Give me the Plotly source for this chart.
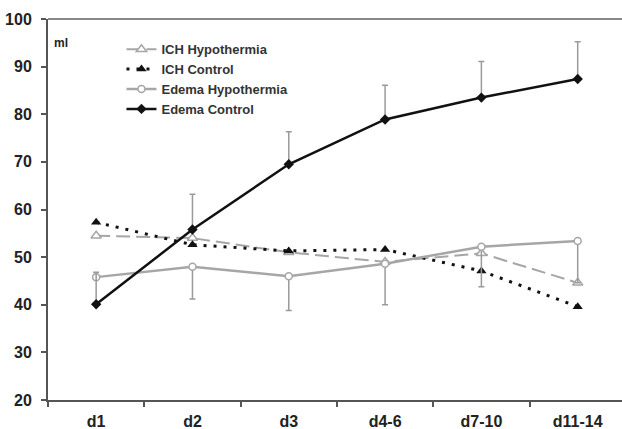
import plotly.graph_objects as go

categories = ["d1", "d2", "d3", "d4-6", "d7-10", "d11-14"]
ich_hypo = [54.5, 54.0, 51.0, 49.0, 50.8, 44.6]
ich_ctrl = [57.3, 52.6, 51.3, 51.6, 47.1, 39.6]
edema_hypo = [45.8, 48.0, 46.0, 48.6, 52.2, 53.4]
edema_hypo_err_minus = [0, 6.8, 7.2, 8.6, 8.4, 8.8]
edema_ctrl = [40.1, 55.8, 69.5, 78.9, 83.5, 87.4]
edema_ctrl_err_plus = [6.7, 7.4, 6.8, 7.2, 7.6, 7.8]
zeros = [0] * 6
yticks = [20, 30, 40, 50, 60, 70, 80, 90, 100]

GRAY = "#a6a6a6"
ERR = "#9a9a9a"

fig = go.Figure()
fig.add_trace(go.Scatter(
    x=categories, y=ich_hypo, name="ICH Hypothermia", mode="lines+markers",
    line=dict(color=GRAY, width=2, dash="14px,6px"),
    marker=dict(symbol="triangle-up", size=9, color="white", line=dict(color=GRAY, width=1.5)),
))
fig.add_trace(go.Scatter(
    x=categories, y=ich_ctrl, name="ICH Control", mode="lines+markers",
    line=dict(color="#111111", width=3, dash="3px,7px"),
    marker=dict(symbol="triangle-up", size=9, color="#111111"),
))
fig.add_trace(go.Scatter(
    x=categories, y=edema_hypo, name="Edema Hypothermia", mode="lines+markers",
    line=dict(color=GRAY, width=2.5),
    marker=dict(symbol="circle", size=7, color="white", line=dict(color=GRAY, width=1.5)),
    error_y=dict(type="data", symmetric=False, array=zeros, arrayminus=edema_hypo_err_minus,
                 color=ERR, thickness=1.5, width=3),
))
fig.add_trace(go.Scatter(
    x=categories, y=edema_ctrl, name="Edema Control", mode="lines+markers",
    line=dict(color="#111111", width=2.5),
    marker=dict(symbol="diamond", size=8, color="#111111"),
    error_y=dict(type="data", symmetric=False, array=edema_ctrl_err_plus, arrayminus=zeros,
                 color=ERR, thickness=1.5, width=3),
))

fig.update_layout(
    width=622, height=429,
    margin=dict(l=48, r=0, t=19, b=29),
    paper_bgcolor="white", plot_bgcolor="white",
    font=dict(family="Liberation Sans, Arial, sans-serif", color="#222222"),
    showlegend=True,
    legend=dict(x=0.128, y=0.96, xanchor="left", yanchor="top",
                bgcolor="rgba(0,0,0,0)", borderwidth=0,
                font=dict(size=13, color="#333333", family="Liberation Sans, Arial, sans-serif", weight="bold"),
                tracegroupgap=0, itemwidth=30),
    xaxis=dict(
        type="category", range=[-0.5, 5.46], tickson="boundaries",
        showgrid=False, zeroline=False,
        showline=True, linecolor="#555555", linewidth=2,
        ticks="outside", ticklen=5, tickwidth=2, tickcolor="#555555",
        tickfont=dict(size=16, color="#222222", weight="bold"),
        ticklabelstandoff=6, automargin=False,
    ),
    yaxis=dict(
        range=[20, 100], tickvals=yticks,
        showgrid=False, zeroline=False,
        showline=True, linecolor="#555555", linewidth=2,
        ticks="outside", ticklen=5, tickwidth=2, tickcolor="#555555",
        tickfont=dict(size=16, color="#222222", weight="bold"),
        ticklabelstandoff=6, automargin=False,
    ),
    shapes=[dict(type="line", xref="paper", yref="paper", x0=0, x1=1, y0=1, y1=1,
                 line=dict(color="#888888", width=2))],
    annotations=[dict(text="ml", xref="paper", yref="paper", x=0.007, y=0.936,
                      xanchor="left", yanchor="middle", showarrow=False,
                      font=dict(size=12, color="#222222", weight="bold"))],
)

fig.write_html("out.html", config={"displayModeBar": False},
               post_script="document.body.style.margin='0';document.body.style.padding='0';")
